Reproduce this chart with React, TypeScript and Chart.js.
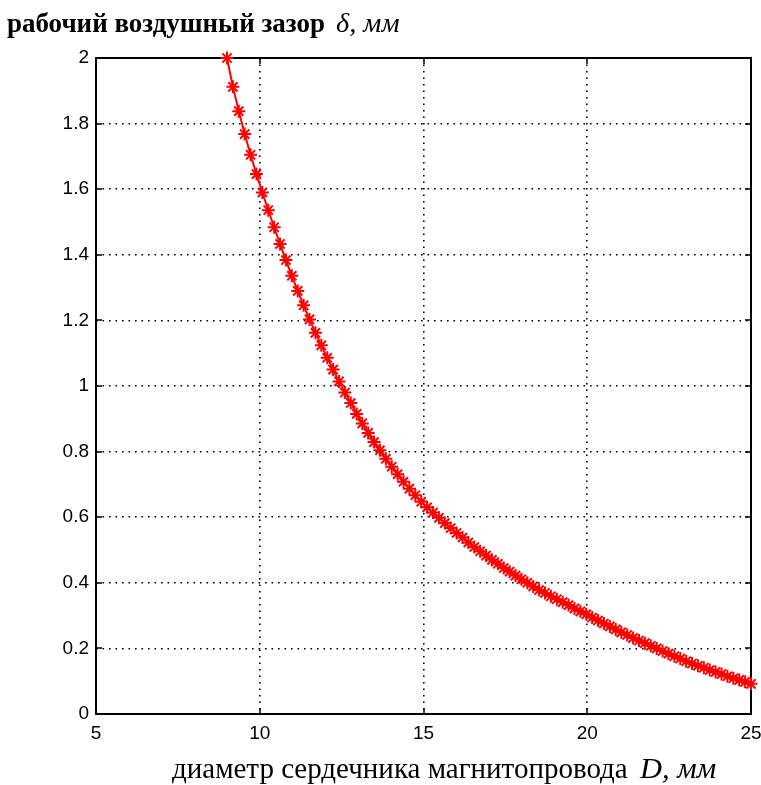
import React, { useEffect, useRef } from 'react';
import { Chart, registerables } from 'chart.js';

Chart.register(...registerables);

// D, mm (core diameter) at each plotted marker
const DIAMETER_MM = [
  9.0, 9.18, 9.36, 9.54, 9.72, 9.9, 10.08, 10.26, 10.44, 10.62,
  10.8, 10.98, 11.16, 11.34, 11.52, 11.7, 11.88, 12.06, 12.24, 12.42,
  12.6, 12.78, 12.96, 13.13, 13.31, 13.49, 13.67, 13.85, 14.03, 14.21,
  14.39, 14.57, 14.75, 14.93, 15.11, 15.29, 15.47, 15.65, 15.83, 16.01,
  16.19, 16.37, 16.55, 16.73, 16.91, 17.09, 17.27, 17.45, 17.63, 17.81,
  17.99, 18.17, 18.35, 18.53, 18.71, 18.89, 19.07, 19.25, 19.43, 19.61,
  19.79, 19.97, 20.15, 20.33, 20.51, 20.69, 20.87, 21.04, 21.22, 21.4,
  21.58, 21.76, 21.94, 22.12, 22.3, 22.48, 22.66, 22.84, 23.02, 23.2,
  23.38, 23.56, 23.74, 23.92, 24.1, 24.28, 24.46, 24.64, 24.82, 25.0,
];

// δ, mm (working air gap) at each marker
const GAP_MM = [
  2.0, 1.912, 1.838, 1.768, 1.705, 1.646, 1.59, 1.536, 1.484, 1.433,
  1.384, 1.336, 1.29, 1.246, 1.203, 1.162, 1.124, 1.086, 1.05, 1.014,
  0.98, 0.948, 0.915, 0.886, 0.857, 0.829, 0.804, 0.778, 0.754, 0.731,
  0.708, 0.687, 0.667, 0.647, 0.63, 0.614, 0.598, 0.582, 0.567, 0.552,
  0.538, 0.523, 0.509, 0.496, 0.483, 0.47, 0.458, 0.445, 0.434, 0.422,
  0.411, 0.4, 0.389, 0.378, 0.369, 0.359, 0.35, 0.341, 0.332, 0.322,
  0.313, 0.304, 0.294, 0.285, 0.276, 0.267, 0.258, 0.249, 0.241, 0.232,
  0.224, 0.216, 0.208, 0.2, 0.192, 0.184, 0.176, 0.169, 0.161, 0.154,
  0.147, 0.141, 0.134, 0.128, 0.122, 0.115, 0.109, 0.104, 0.098, 0.092,
];

const X_TICKS = [5, 10, 15, 20, 25];
const Y_TICKS = [0, 0.2, 0.4, 0.6, 0.8, 1, 1.2, 1.4, 1.6, 1.8, 2];
const X_TICK_LABELS = ['5', '10', '15', '20', '25'];
const Y_TICK_LABELS = ['0', '0.2', '0.4', '0.6', '0.8', '1', '1.2', '1.4', '1.6', '1.8', '2'];

const X_TITLE = 'диаметр сердечника магнитопровода';
const X_TITLE_VAR = 'D, мм';
const Y_TITLE = 'рабочий воздушный зазор';
const Y_TITLE_VAR = 'δ, мм';

export default function App() {
  const ref = useRef<HTMLCanvasElement>(null);

  useEffect(() => {
    const canvas = ref.current;
    if (!canvas) return;

    const framePlugin = {
      id: 'matlabFrame',
      beforeDatasetsDraw(chart: any) {
        const { ctx, chartArea, scales } = chart;
        const { left, top, right, bottom } = chartArea;
        const x = scales.x;
        const y = scales.y;
        ctx.save();
        ctx.strokeStyle = '#000';
        ctx.lineWidth = 2;
        ctx.strokeRect(left, top, right - left, bottom - top);
        ctx.lineWidth = 1.5;
        const tl = 6;
        ctx.beginPath();
        X_TICKS.forEach((v) => {
          const px = Math.round(x.getPixelForValue(v));
          ctx.moveTo(px, bottom);
          ctx.lineTo(px, bottom - tl);
          ctx.moveTo(px, top);
          ctx.lineTo(px, top + tl);
        });
        Y_TICKS.forEach((v) => {
          const py = Math.round(y.getPixelForValue(v));
          ctx.moveTo(left, py);
          ctx.lineTo(left + tl, py);
          ctx.moveTo(right, py);
          ctx.lineTo(right - tl, py);
        });
        ctx.stroke();
        ctx.restore();
      },
      afterDraw(chart: any) {
        const { ctx } = chart;
        ctx.save();
        ctx.fillStyle = '#000';
        ctx.textBaseline = 'alphabetic';
        ctx.textAlign = 'left';

        // y title (top-left, horizontal)
        let fs = 26;
        ctx.font = `bold ${fs}px "Liberation Serif"`;
        let w = ctx.measureText(Y_TITLE).width;
        fs = (fs * 318) / w;
        ctx.font = `bold ${fs}px "Liberation Serif"`;
        ctx.fillText(Y_TITLE, 7, 32);
        ctx.font = `italic ${fs * 1.05}px "Liberation Serif"`;
        ctx.fillText(Y_TITLE_VAR, 336, 32);

        // x title (below the axis)
        let fx = 26;
        ctx.font = `${fx}px "Liberation Serif"`;
        w = ctx.measureText(X_TITLE).width;
        fx = (fx * 456) / w;
        ctx.font = `${fx}px "Liberation Serif"`;
        ctx.fillText(X_TITLE, 172, 778);
        ctx.font = `italic ${fx * 1.05}px "Liberation Serif"`;
        ctx.fillText(X_TITLE_VAR, 640, 778);
        ctx.restore();
      },
    };

    const gridStyle = {
      color: '#000',
      lineWidth: 1.6,
      drawTicks: false,
      tickLength: 0,
    };

    const tickFont = { family: '"Liberation Sans", Arial, sans-serif', size: 19 };

    const chart = new Chart(canvas, {
      type: 'line',
      data: {
        datasets: [
          {
            data: DIAMETER_MM.map((d, i) => ({ x: d, y: GAP_MM[i] })),
            borderColor: '#ff0000',
            backgroundColor: '#ff0000',
            borderWidth: 2,
            pointStyle: 'star',
            pointRadius: 6.5,
            pointBorderWidth: 2,
            pointBorderColor: '#ff0000',
            tension: 0,
            clip: false,
            fill: false,
          } as any,
        ],
      },
      options: {
        responsive: false,
        animation: false,
        devicePixelRatio: 1,
        layout: { padding: { left: 0, top: 58, right: 0, bottom: 0 } },
        plugins: { legend: { display: false }, tooltip: { enabled: false } },
        scales: {
          x: {
            type: 'linear',
            min: 5,
            max: 25,
            afterFit: (s: any) => {
              s.height = 71;
              s.paddingRight = 10;
              s.paddingLeft = 0;
            },
            afterBuildTicks: (s: any) => {
              s.ticks = X_TICKS.map((v) => ({ value: v }));
            },
            ticks: {
              color: '#000',
              font: tickFont,
              padding: 8,
              maxRotation: 0,
              callback: (v: any) => {
                const i = X_TICKS.indexOf(Number(v));
                return i >= 0 ? X_TICK_LABELS[i] : '';
              },
            },
            grid: gridStyle,
            border: { display: false, dash: [1.6, 4.9] },
          },
          y: {
            type: 'linear',
            min: 0,
            max: 2,
            afterFit: (s: any) => {
              s.width = 96;
              s.paddingTop = 0;
              s.paddingBottom = 0;
            },
            afterBuildTicks: (s: any) => {
              s.ticks = Y_TICKS.map((v) => ({ value: v }));
            },
            ticks: {
              color: '#000',
              font: tickFont,
              padding: 7,
              callback: (v: any) => {
                const i = Y_TICKS.findIndex((t) => Math.abs(t - Number(v)) < 1e-6);
                return i >= 0 ? Y_TICK_LABELS[i] : '';
              },
            },
            grid: gridStyle,
            border: { display: false, dash: [1.6, 4.9] },
          },
        },
      },
      plugins: [framePlugin],
    });

    return () => chart.destroy();
  }, []);

  return (
    <div style={{ position: 'absolute', left: 0, top: 0, width: 761, height: 785, background: '#fff' }}>
      <canvas ref={ref} width={761} height={785} style={{ display: 'block', width: 761, height: 785 }} />
    </div>
  );
}
